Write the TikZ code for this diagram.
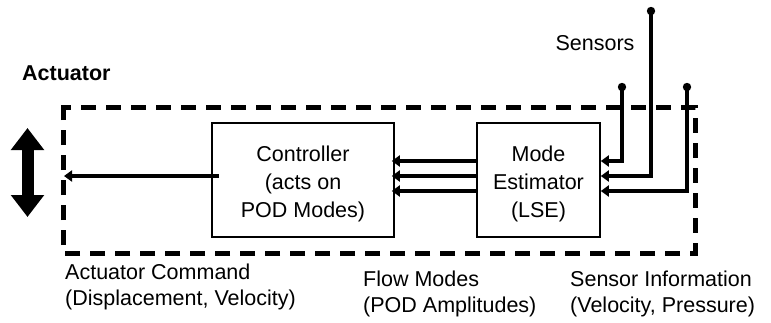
\documentclass[tikz,border=0pt]{standalone}
\usepackage{fontspec}
\setmainfont{Liberation Sans}
\usetikzlibrary{arrows.meta}

\tikzset{
    blockbox/.style={draw, line width=1.6pt, minimum width=182pt, minimum height=114pt, inner sep=0pt},
    boxtext/.style={font=\fontsize{21.5}{28}\selectfont, align=center, inner sep=0pt},
    lbl/.style={font=\fontsize{21.5}{26}\selectfont, align=left, inner sep=0pt, anchor=base west},
    signal/.style={line width=4.5pt, -{Triangle[length=8pt,width=11pt]}},
    loopline/.style={line width=5pt, dash pattern=on 15pt off 10pt, line join=miter},
}

\begin{document}
\begin{tikzpicture}[x=1pt, y=-1pt]
    \useasboundingbox (0,0) rectangle (771,322);
    % feedback loop
    \draw[loopline] (63,114) -- (63,107) -- (695,107) -- (695,253) -- (63,253) -- cycle;
    % blocks
    \node[blockbox] (ctrl) at (303,180) {};
    \node[boxtext, yshift=-4pt] (ctrltext) at (ctrl) {Controller\\(acts on\\POD Modes)};
    \node[blockbox, minimum width=123pt] (est) at (538.5,180) {};
    \node[boxtext, yshift=-4pt] (esttext) at (est) {Mode\\Estimator\\(LSE)};
    % sensors
    \coordinate (s1) at (622,87);
    \coordinate (s2) at (651,11);
    \coordinate (s3) at (687,87);
    \foreach \s in {s1,s2,s3}
        \fill (\s) circle (4.2pt);
    \draw[signal] (s1) |- ([yshift=19pt]est.east);
    \draw[signal] (s2) |- ([yshift=4pt]est.east);
    \draw[signal] (s3) |- ([yshift=-11pt]est.east);
    % flow modes
    \foreach \dy in {19,4,-11}
        \draw[signal, shorten >=-3pt] ([yshift=\dy pt]est.west) -- ([yshift=\dy pt]ctrl.east);
    % actuator command
    \coordinate (cmd) at (64,176);
    \draw[signal] ([xshift=8pt, yshift=4pt]ctrl.west) -- (cmd);
    \draw[line width=12pt, {Triangle[length=22pt,width=32pt]}-{Triangle[length=22pt,width=32pt]}] (27.5,128) -- (27.5,217);
    % labels
    \node[lbl, font=\fontsize{21.5}{26}\selectfont\bfseries] (actlabel) at (22,80) {Actuator};
    \node[lbl, anchor=base] (senslabel) at (595,50) {Sensors};
    \node[lbl] (cmdlabel) at (65,305) {Actuator Command\\(Displacement, Velocity)};
    \node[lbl] (flowlabel) at (363,312) {Flow Modes\\(POD Amplitudes)};
    \node[lbl] (infolabel) at (570,312) {Sensor Information\\(Velocity, Pressure)};
\end{tikzpicture}
\end{document}
